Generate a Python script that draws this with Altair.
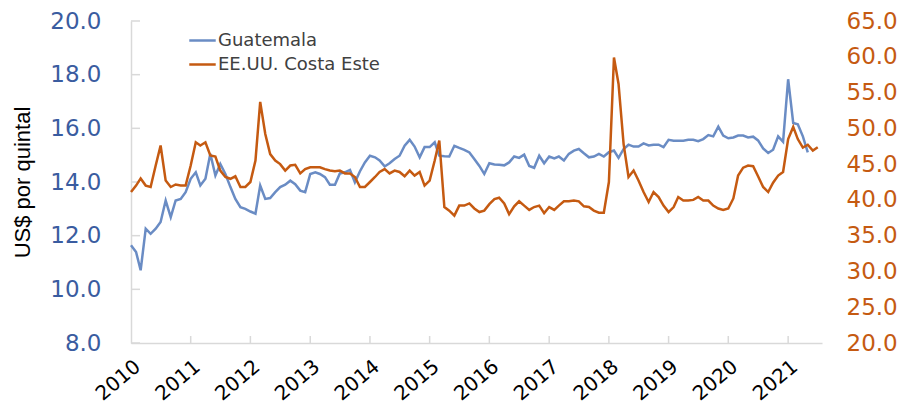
import altair as alt
import pandas as pd

# ---- data (monthly) ----
series_names = ["Guatemala", "EE.UU. Costa Este"]

guatemala = [
    11.64, 11.39, 10.71, 12.26, 12.07, 12.26, 12.51, 13.31, 12.69, 13.31, 13.37, 13.62,
    14.12, 14.36, 13.87, 14.12, 15.05, 14.24, 14.67, 14.30, 13.81, 13.37, 13.06, 13.00,
    12.90, 12.82, 13.87, 13.37, 13.40, 13.62, 13.81, 13.90, 14.05, 13.92, 13.68, 13.62,
    14.30, 14.36, 14.30, 14.18, 13.90, 13.90, 14.32, 14.36, 14.45, 13.99, 14.40, 14.73,
    14.98, 14.92, 14.80, 14.58, 14.70, 14.86, 14.98, 15.35, 15.57, 15.32, 14.92, 15.30,
    15.30, 15.48, 14.98, 14.96, 14.95, 15.35, 15.27, 15.20, 15.10, 14.86, 14.60, 14.30,
    14.70, 14.65, 14.64, 14.62, 14.73, 14.95, 14.90, 15.02, 14.60, 14.53, 14.98, 14.70,
    14.95, 14.88, 14.95, 14.80, 15.05, 15.17, 15.23, 15.07, 14.92, 14.95, 15.05, 14.95,
    15.11, 15.17, 14.90, 15.23, 15.39, 15.32, 15.32, 15.44, 15.36, 15.39, 15.39, 15.30,
    15.57, 15.54, 15.54, 15.54, 15.57, 15.57, 15.52, 15.60, 15.75, 15.70, 16.06, 15.73,
    15.63, 15.66, 15.73, 15.73, 15.66, 15.69, 15.55, 15.25, 15.08, 15.20, 15.70, 15.50,
    17.83, 16.20, 16.15, 15.70, 15.10,
]

costa_este = [
    41.1, 42.0, 43.0, 42.0, 41.8, 44.8, 47.6, 42.7, 41.8, 42.15, 42.0, 42.0,
    44.8, 48.05, 47.6, 48.05, 46.2, 46.05, 44.1, 43.2, 42.95, 43.3, 41.8, 41.8,
    42.5, 45.5, 53.7, 49.2, 46.4, 45.5, 45.0, 44.1, 44.8, 44.9, 43.7, 44.3,
    44.56, 44.56, 44.56, 44.3, 44.1, 44.0, 44.1, 43.7, 43.7, 43.2, 41.8, 41.8,
    42.5, 43.2, 43.9, 44.3, 43.7, 44.1, 43.9, 43.3, 44.1, 43.4, 43.9, 42.0,
    42.7, 45.5, 48.3, 39.0, 38.5, 37.8, 39.2, 39.2, 39.5, 38.8, 38.3, 38.5,
    39.4, 40.1, 40.3, 39.5, 38.0, 39.1, 39.8, 39.2, 38.6, 39.0, 39.2, 38.15,
    39.0, 38.6, 39.2, 39.8, 39.8, 39.9, 39.8, 39.1, 39.0, 38.5, 38.2, 38.2,
    42.5, 59.9, 56.2, 47.8, 43.2, 44.1, 42.7, 41.1, 39.7, 41.1, 40.4, 39.2,
    38.3, 39.0, 40.4, 39.9, 39.9, 40.0, 40.4, 39.9, 39.9, 39.2, 38.8, 38.6,
    38.8, 40.2, 43.4, 44.5, 44.8, 44.7, 43.3, 41.8, 41.1, 42.4, 43.4, 43.9,
    48.5, 50.2, 48.5, 47.3, 47.7, 46.9, 47.35,
]

years = list(range(2010, 2022))
left_ticks = [8, 10, 12, 14, 16, 18, 20]
right_ticks = [20, 25, 30, 35, 40, 45, 50, 55, 60, 65]

months = pd.date_range("2010-01-01", periods=len(costa_este), freq="MS")
df_g = pd.DataFrame({"fecha": months[: len(guatemala)], "valor": guatemala, "serie": series_names[0]})
df_e = pd.DataFrame({"fecha": months, "valor": costa_este, "serie": series_names[1]})
df_lt = pd.DataFrame({"valor": left_ticks})
df_xt = pd.DataFrame({"fecha": pd.to_datetime([f"{y}-01-01" for y in years[1:]])})

# ---- styles ----
BLUE_LINE = "#6A8CC4"
ORANGE = "#C55A11"
BLUE_TEXT = "#3A5CA0"
AXIS_GRAY = "#D9D9D9"
W, H = 691, 322

x_enc = alt.X(
    "fecha:T",
    scale=alt.Scale(domain=[alt.DateTime(year=2010, month=1, date=1),
                            alt.DateTime(year=2021, month=7, date=27)]),
    axis=alt.Axis(
        values=[alt.DateTime(year=y, month=1, date=1) for y in years],
        format="%Y", labelAngle=-40, labelAlign="right", labelBaseline="top",
        labelFont="DejaVu Sans", labelFontSize=20, labelColor="black",
        labelPadding=13, labelOverlap=False, labelFlush=False, ticks=False, grid=False,
        domainColor=AXIS_GRAY, domainWidth=1.5, title=None,
    ),
)

left_y = alt.Y(
    "valor:Q",
    scale=alt.Scale(domain=[8, 20], nice=False, zero=False),
    axis=alt.Axis(
        values=left_ticks, format=".1f", labelColor=BLUE_TEXT,
        labelFont="DejaVu Sans", labelFontSize=23, labelPadding=30,
        ticks=False, grid=False, domainColor=AXIS_GRAY, domainWidth=1.5,
        title="US$ por quintal", titleFont="Liberation Sans", titleFontSize=22,
        titleFontWeight="normal", titleColor="black", titlePadding=15,
    ),
)

right_y = alt.Y(
    "valor:Q",
    scale=alt.Scale(domain=[20, 65], nice=False, zero=False),
    axis=alt.Axis(
        orient="right", values=right_ticks, format=".1f", labelColor=ORANGE,
        labelFont="DejaVu Sans", labelFontSize=23, labelPadding=24,
        ticks=False, grid=False, domain=False, title=None,
    ),
)

color_enc = alt.Color(
    "serie:N",
    scale=alt.Scale(domain=series_names, range=[BLUE_LINE, ORANGE]),
    legend=alt.Legend(
        title=None, orient="none", legendX=57, legendY=5,
        symbolType="stroke", symbolSize=700, symbolStrokeWidth=2.5,
        labelFont="DejaVu Sans", labelFontSize=18, labelColor="#404040",
        labelLimit=0, rowPadding=0, labelOffset=1, padding=0,
    ),
)

g_line = alt.Chart(df_g).mark_line(strokeWidth=2.5).encode(x=x_enc, y=left_y, color=color_enc)
left_rules = alt.Chart(df_lt).mark_rule(color=AXIS_GRAY, strokeWidth=1.5).encode(
    y=left_y, x=alt.value(0), x2=alt.value(9)
)
x_rules = alt.Chart(df_xt).mark_rule(color=AXIS_GRAY, strokeWidth=1.5).encode(
    x=x_enc, y=alt.value(H - 7), y2=alt.value(H)
)
e_line = alt.Chart(df_e).mark_line(strokeWidth=2.5).encode(x=x_enc, y=right_y, color=color_enc)

left = alt.layer(left_rules, x_rules, g_line)
chart = (
    alt.layer(left, e_line)
    .resolve_scale(y="independent")
    .properties(
        width=W, height=H,
        autosize=alt.AutoSizeParams(type="none"),
        padding={"left": 123, "top": 13, "right": 82, "bottom": 62},
    )
    .configure_view(stroke=None)
)

chart.save("out.html", embed_options={"renderer": "svg", "actions": False})
